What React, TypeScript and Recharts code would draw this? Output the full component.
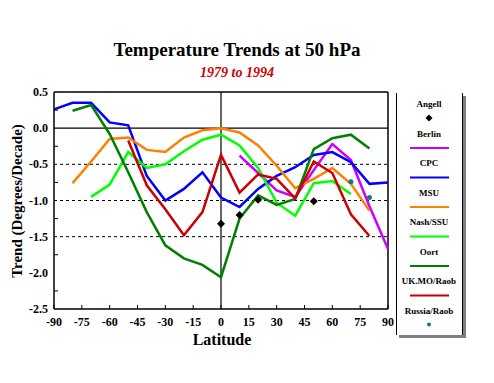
import { ComposedChart, Line, XAxis, YAxis, ReferenceLine } from 'recharts';

const lats = [-90, -80, -70, -60, -50, -40, -30, -20, -10, 0, 10, 20, 30, 40, 50, 60, 70, 80, 90];

const angell = [null, null, null, null, null, null, null, null, null, -1.32, -1.2, -0.99, null, null, -1.01, null, null, null, null];
const berlin = [null, null, null, null, null, null, null, null, null, null, -0.38, -0.62, -0.86, -0.95, -0.58, -0.22, -0.44, -1.08, -1.67];
const cpc = [0.26, 0.35, 0.35, 0.08, 0.04, -0.66, -1.0, -0.84, -0.61, -0.96, -1.09, -0.84, -0.66, -0.54, -0.37, -0.33, -0.47, -0.77, -0.75];
const msu = [null, -0.76, -0.46, -0.15, -0.13, -0.3, -0.33, -0.13, -0.03, 0.0, -0.06, -0.24, -0.52, -0.83, -0.7, -0.55, -0.77, -1.14, null];
const nash = [null, null, -0.95, -0.78, -0.33, -0.55, -0.5, -0.32, -0.16, -0.09, -0.24, -0.55, -1.03, -1.21, -0.76, -0.73, -0.91, null, null];
const oort = [null, 0.24, 0.32, -0.08, -0.61, -1.16, -1.62, -1.8, -1.89, -2.06, -1.25, -0.93, -1.06, -0.98, -0.29, -0.14, -0.09, -0.28, null];
const ukmo = [null, null, null, null, -0.17, -0.79, -1.12, -1.48, -1.16, -0.37, -0.89, -0.64, -0.7, -0.97, -0.46, -0.62, -1.19, -1.49, null];
const russia = [null, null, null, null, null, null, null, null, null, null, null, null, null, null, null, null, -0.74, -0.96, null];

const xTicks = [-90, -75, -60, -45, -30, -15, 0, 15, 30, 45, 60, 75, 90];
const yTicks = [0.5, 0.25, 0, -0.25, -0.5, -0.75, -1, -1.25, -1.5, -1.75, -2, -2.25, -2.5];

const data = lats.map((lat, i) => ({
  lat,
  angell: angell[i],
  berlin: berlin[i],
  cpc: cpc[i],
  msu: msu[i],
  nash: nash[i],
  oort: oort[i],
  ukmo: ukmo[i],
  russia: russia[i],
}));

const SERIF = '"Liberation Serif", "DejaVu Serif", serif';

const series = [
  { key: 'berlin', name: 'Berlin', color: '#CC00FF' },
  { key: 'cpc', name: 'CPC', color: '#0000FF' },
  { key: 'msu', name: 'MSU', color: '#FF8000' },
  { key: 'nash', name: 'Nash/SSU', color: '#00FF00' },
  { key: 'oort', name: 'Oort', color: '#008000' },
  { key: 'ukmo', name: 'UK.MO/Raob', color: '#CC0000' },
];

const Diamond = (props: any) => {
  const { cx, cy, value, index } = props;
  if (value == null || cy == null) return <g key={`d${index}`} />;
  return <path key={`d${index}`} d={`M${cx},${cy - 4}L${cx + 4},${cy}L${cx},${cy + 4}L${cx - 4},${cy}Z`} fill="#000" />;
};

const TealDot = (props: any) => {
  const { cx, cy, value, index } = props;
  if (value == null || cy == null) return <g key={`r${index}`} />;
  return <circle key={`r${index}`} cx={cx} cy={cy} r={2.5} fill="#008080" />;
};

const XTick = (props: any) => {
  const { x, y, payload } = props;
  return (
    <g>
      <line x1={x} x2={x} y1={y} y2={y - 4} stroke="#000" />
      <text x={x} y={y + 17} textAnchor="middle" fontSize={12} fontWeight="bold" fontFamily={SERIF} fill="#000">
        {payload.value}
      </text>
    </g>
  );
};

const YTick = (props: any) => {
  const { x, y, payload } = props;
  const v = payload.value;
  const major = Math.abs(v * 2 - Math.round(v * 2)) < 1e-6;
  return (
    <g>
      {!major && <line x1={x} x2={x + 4} y1={y} y2={y} stroke="#000" />}
      {major && (
        <text x={x - 6} y={y + 4} textAnchor="end" fontSize={12} fontWeight="bold" fontFamily={SERIF} fill="#000">
          {v.toFixed(1)}
        </text>
      )}
    </g>
  );
};

const legendItems = ['Angell', 'Berlin', 'CPC', 'MSU', 'Nash/SSU', 'Oort', 'UK.MO/Raob', 'Russia/Raob'];

export default function App() {
  return (
    <div style={{ position: 'absolute', left: 0, top: 0, width: 494, height: 383, background: '#fff' }}>
      <ComposedChart width={494} height={383} data={data} margin={{ top: 92, right: 106, bottom: 44, left: 10 }}>
        <XAxis
          dataKey="lat"
          type="number"
          domain={[-90, 90]}
          ticks={xTicks}
          tick={<XTick />}
          tickLine={false}
          tickSize={0}
          tickMargin={0}
          height={30}
          axisLine={{ stroke: '#000', strokeWidth: 1.5 }}
          interval={0}
        />
        <YAxis
          type="number"
          domain={[-2.5, 0.5]}
          ticks={yTicks}
          tick={<YTick />}
          tickLine={false}
          tickSize={0}
          tickMargin={0}
          width={44}
          axisLine={{ stroke: '#000', strokeWidth: 1.5 }}
          interval={0}
        />
        <ReferenceLine y={0.5} stroke="#000" strokeWidth={1.5} />
        <ReferenceLine x={90} stroke="#000" strokeWidth={1.5} />
        <ReferenceLine y={0} stroke="#000" strokeWidth={1.2} />
        <ReferenceLine x={0} stroke="#000" strokeWidth={1.2} />
        {[-0.5, -1, -1.5].map((v) => (
          <ReferenceLine key={v} y={v} stroke="#000" strokeDasharray="3 3" />
        ))}
        {series.map((s) => (
          <Line
            key={s.key}
            type="linear"
            dataKey={s.key}
            stroke={s.color}
            strokeWidth={2.5}
            dot={false}
            activeDot={false}
            isAnimationActive={false}
          />
        ))}
        <Line dataKey="angell" stroke="none" dot={<Diamond />} activeDot={false} isAnimationActive={false} />
        <Line dataKey="russia" stroke="none" dot={<TealDot />} activeDot={false} isAnimationActive={false} />
      </ComposedChart>

      <svg width={494} height={383} style={{ position: 'absolute', left: 0, top: 0, pointerEvents: 'none' }}>
        <text x={237} y={56} textAnchor="middle" fontSize={19} fontWeight="bold" fontFamily={SERIF} fill="#000">
          Temperature Trends at 50 hPa
        </text>
        <text x={237} y={77} textAnchor="middle" fontSize={14} fontWeight="bold" fontStyle="italic" fontFamily={SERIF} fill="#CC0000">
          1979 to 1994
        </text>
        <text transform="translate(22,201) rotate(-90)" textAnchor="middle" fontSize={15} fontWeight="bold" fontFamily={SERIF} fill="#000">
          Trend (Degrees/Decade)
        </text>
        <text x={222} y={345} textAnchor="middle" fontSize={16} fontWeight="bold" fontFamily={SERIF} fill="#000">
          Latitude
        </text>

        {/* Legend */}
        <rect x={399} y={96} width={67} height={242} fill="#808080" />
        <rect x={396} y={93} width={67} height={242} fill="#fff" />
        <line x1={396.5} y1={93} x2={396.5} y2={335} stroke="#000" />
        <line x1={462.5} y1={93} x2={462.5} y2={335} stroke="#000" />
        {legendItems.map((name, i) => {
          const y = 104 + i * 29.5;
          const s = series.find((d) => d.name === name);
          return (
            <g key={name}>
              <text x={429} y={y + 3} textAnchor="middle" fontSize={9} fontWeight="bold" fontFamily={SERIF} fill="#000">
                {name}
              </text>
              {s && <line x1={410} x2={449} y1={y + 14.5} y2={y + 14.5} stroke={s.color} strokeWidth={2} />}
              {name === 'Angell' && <path d={`M429,${y + 10.5}L432.5,${y + 14}L429,${y + 17.5}L425.5,${y + 14}Z`} fill="#000" />}
              {name === 'Russia/Raob' && <circle cx={429} cy={y + 14} r={2} fill="#008080" />}
            </g>
          );
        })}
      </svg>
    </div>
  );
}
